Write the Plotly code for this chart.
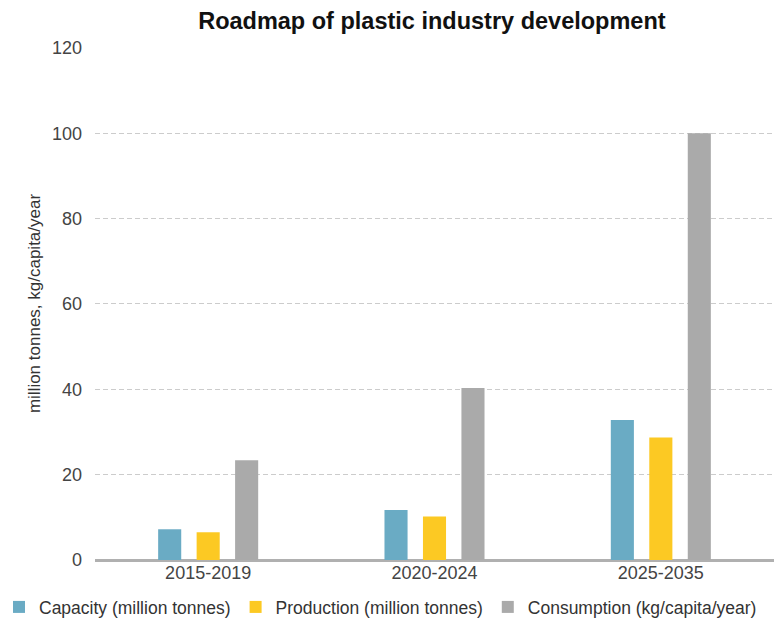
import plotly.graph_objects as go

categories = ["2015-2019", "2020-2024", "2025-2035"]
capacity = [7.2, 11.7, 32.8]
production = [6.5, 10.2, 28.7]
consumption = [23.4, 40.3, 100.0]
series_names = ["Capacity (million tonnes)", "Production (million tonnes)", "Consumption (kg/capita/year)"]
colors = ["#6aabc4", "#fcc923", "#aaaaaa"]

fig = go.Figure()
for name, vals, col in zip(series_names, [capacity, production, consumption], colors):
    fig.add_trace(go.Bar(x=categories, y=vals, name=name,
                         marker=dict(color=col, line=dict(width=0))))

fig.update_layout(
    width=774, height=620,
    margin=dict(l=95, r=0, t=47, b=60, autoexpand=False),
    paper_bgcolor="white", plot_bgcolor="white",
    barmode="group", bargap=0.49, bargroupgap=0.40,
    font=dict(family="Liberation Sans, Arial, sans-serif", size=18, color="#444444"),
    title=dict(text="<b>Roadmap of plastic industry development</b>",
               x=0.558, xanchor="center", y=0.967, yanchor="middle",
               font=dict(size=23.5, color="#111111")),
    showlegend=True,
    legend=dict(orientation="h", x=-0.1414, xanchor="left", y=-0.0917, yanchor="middle",
                font=dict(size=17.5, color="#333333"), itemwidth=30,
                bgcolor="rgba(0,0,0,0)"),
    xaxis=dict(showgrid=False, showline=False, ticks="", automargin=False,
               tickfont=dict(size=18, color="#444444")),
    yaxis=dict(range=[0, 120.2], dtick=20, showgrid=True, gridcolor="#cccccc",
               griddash="5px,3px", gridwidth=1, zeroline=True, zerolinecolor="#b0b0b0",
               zerolinewidth=3, ticks="", ticklabelstandoff=12, automargin=False,
               tickfont=dict(size=18, color="#444444"),
               title=dict(text="million tonnes, kg/capita/year", standoff=7,
                          font=dict(size=17, color="#333333"))),
)

fig.write_html("out.html")
